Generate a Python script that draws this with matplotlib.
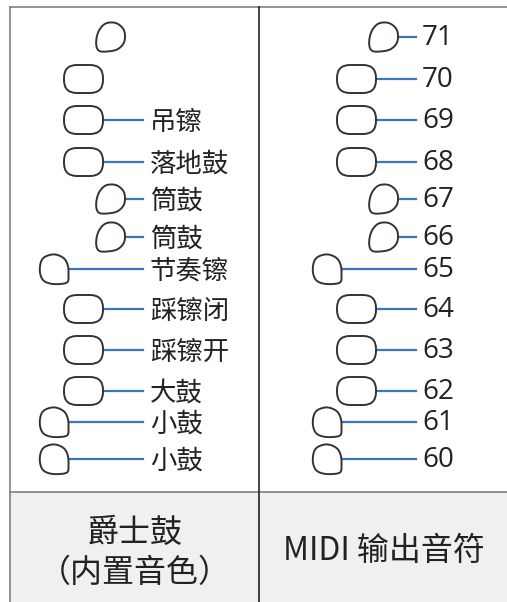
import matplotlib.pyplot as plt
import numpy as np
from matplotlib.path import Path
from matplotlib.patches import PathPatch, FancyBboxPatch, Rectangle

plt.rcParams['font.family'] = ['Noto Sans CJK SC', 'DejaVu Sans']

# MIDI notes, top to bottom, with the built-in jazz kit sounds
notes = [71, 70, 69, 68, 67, 66, 65, 64, 63, 62, 61, 60]
names = ['', '', '吊镲', '落地鼓', '筒鼓', '筒鼓', '节奏镲', '踩镲闭', '踩镲开', '大鼓', '小鼓', '小鼓']
heads = ['blob', 'oval', 'oval', 'oval', 'blob', 'blob', 'blob_low', 'oval', 'oval', 'oval', 'blob_low', 'blob_low']
col_titles = ['爵士鼓\n（内置音色）', 'MIDI 输出音符']

# layout (pixels)
row_y = [37, 79, 120, 162, 199, 237, 269, 309, 350, 391, 422, 459]
head_x = {'blob': 96, 'oval': 64, 'blob_low': 40}
col_shift = 273
line_end = 143

LINE = '#3b74c0'
INK = '#333333'


def smooth_closed(pts, n=20):
    # catmull-rom through the points, closed
    pts = np.asarray(pts, float)
    m = len(pts)
    out = []
    for i in range(m):
        p0, p1, p2, p3 = pts[i - 1], pts[i], pts[(i + 1) % m], pts[(i + 2) % m]
        for t in np.linspace(0, 1, n, endpoint=False):
            t2, t3 = t * t, t * t * t
            out.append(0.5 * ((2 * p1) + (-p0 + p2) * t + (2 * p0 - 5 * p1 + 4 * p2 - p3) * t2
                              + (-p0 + 3 * p1 - 3 * p2 + p3) * t3))
    out.append(out[0])
    return np.array(out)


# hand-drawn note heads (local px, y down)
blob_shapes = {
    'blob': [(14, 0), (21, 1), (27, 6), (29, 13), (27.5, 21), (21, 27), (11, 29), (3.5, 28.5),
             (0.5, 24), (0.5, 16), (3, 8), (8, 2)],
    'blob_low': [(12, 0), (19, 1), (25, 5), (28, 12), (28.5, 20), (27.5, 27.5), (20, 29.5),
                 (10, 29), (3, 25.5), (0, 18), (0.5, 9), (4, 3)],
}


def draw_head(ax, kind, x0, yc):
    if kind == 'oval':
        w, h = 39, 28
        ax.add_patch(FancyBboxPatch((x0, yc - h / 2), w, h,
                                    boxstyle='round,pad=0,rounding_size=13',
                                    fc='white', ec=INK, lw=1.4, zorder=3))
        return x0 + w
    verts = smooth_closed(blob_shapes[kind]) + [x0, yc - 14.5]
    ax.add_patch(PathPatch(Path(verts), fc='white', ec=INK, lw=1.4, zorder=3))
    return x0 + 28


fig = plt.figure(figsize=(5.07, 6.02), dpi=100)
ax = fig.add_axes([0, 0, 1, 1])
ax.set_xlim(0, 507)
ax.set_ylim(602, 0)
ax.axis('off')

# table frame
ax.add_patch(Rectangle((10, 492), 520, 120, fc='#f0f0f0', ec='none', zorder=0))
ax.plot([10, 520], [7, 7], color='#808080', lw=1.2)
ax.plot([10, 520], [492, 492], color='#808080', lw=1.2)
ax.plot([10, 10], [7, 602], color='#808080', lw=1.2)
ax.plot([259, 259], [7, 602], color='#222222', lw=1.2)

for note, name, kind, y in zip(notes, names, heads, row_y):
    for col in range(2):
        dx = col * col_shift
        right = draw_head(ax, kind, head_x[kind] + dx, y)
        if col == 0 and name:
            ax.plot([right, line_end], [y, y], color=LINE, lw=1.6, zorder=2)
            ax.text(line_end + 7, y + 2, name, fontsize=19, color='#222222',
                    ha='left', va='center')
        elif col == 1:
            ax.plot([right, line_end + dx], [y, y], color=LINE, lw=1.6, zorder=2)
            ax.text(line_end + dx + 6, y + 1, str(note), fontsize=20, color='#222222',
                    ha='left', va='center', family=['Open Sans', 'DejaVu Sans'])

ax.text(135, 553, col_titles[0], fontsize=23, color='#222222', ha='center', va='center',
        linespacing=1.3)
ax.text(384, 551, col_titles[1], fontsize=23, color='#222222', ha='center', va='center')

fig.savefig('out.png', dpi=100)
